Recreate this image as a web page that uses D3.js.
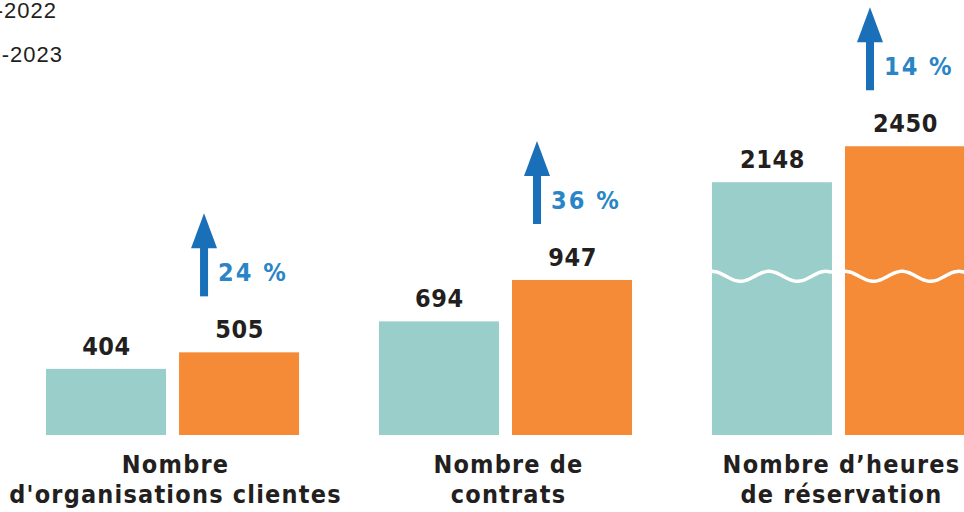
<!DOCTYPE html>
<html>
<head>
<meta charset="utf-8">
<script src="https://cdn.jsdelivr.net/npm/d3@7"></script>
<style>
  body { margin: 0; background: #fff; }
  svg { display: block; }
  .lbl { font-family: "DejaVu Sans Condensed", "DejaVu Sans", sans-serif; font-weight: bold; font-size: 25px; fill: #231f20; letter-spacing: 0.6px; }
  .cat { letter-spacing: 1.2px; }
  .pct { font-family: "DejaVu Sans Condensed", "DejaVu Sans", sans-serif; font-weight: bold; font-size: 25px; fill: #2a85c6; letter-spacing: 2px; }
  .leg { font-family: "Liberation Sans", Arial, sans-serif; font-size: 22px; fill: #231f20; letter-spacing: 1px; }
</style>
</head>
<body>
<div class="chart"></div>
<script>
const categories = [
  ["Nombre", "d'organisations clientes"],
  ["Nombre de", "contrats"],
  ["Nombre d\u2019heures", "de réservation"]
]
const series = ["2021-2022", "2022-2023"]
const values2122 = [404, 694, 2148]
const values2223 = [505, 947, 2450]
const changes = ["24 %", "36 %", "14 %"]
const colors = ["#99cecb", "#f58b37"]

const width = 964, height = 512
const margin = {top: 0, right: -1, bottom: 77, left: 46}
const baseY = height - margin.bottom

const svg = d3.select(".chart").append("svg").attr("width", width).attr("height", height)

const x0 = d3.scaleBand().domain(d3.range(categories.length))
  .range([margin.left, width - margin.right]).paddingInner(0.24).paddingOuter(0)
const x1 = d3.scaleBand().domain(series).range([0, x0.bandwidth()]).paddingInner(0.098)

// axe coupé : partie basse et partie haute
const breakLow = 1000, breakHigh = 1400
const yLow = d3.scaleLinear().domain([0, breakLow]).range([baseY, baseY - 163.7])
const breakY = yLow(breakLow)
const yHigh = d3.scaleLinear().domain([breakHigh, 2500]).range([breakY, breakY - 131])
const y = v => v <= breakLow ? yLow(v) : yHigh(v)

const rows = categories.map((c, i) => ({i, cat: c, vals: [values2122[i], values2223[i]], change: changes[i]}))

const g = svg.selectAll(".grp").data(rows).enter().append("g")
  .attr("transform", d => `translate(${x0(d.i)},0)`)

g.selectAll("rect").data(d => d.vals.map((v, k) => ({v, k}))).enter().append("rect")
  .attr("x", d => x1(series[d.k]))
  .attr("y", d => y(d.v))
  .attr("width", x1.bandwidth())
  .attr("height", d => baseY - y(d.v))
  .attr("fill", d => colors[d.k])

g.selectAll(".val").data(d => d.vals.map((v, k) => ({v, k}))).enter().append("text")
  .attr("class", "lbl")
  .attr("x", d => x1(series[d.k]) + x1.bandwidth() / 2 + 0.5)
  .attr("y", d => y(d.v) - 14)
  .attr("text-anchor", "middle")
  .text(d => d.v)

// vague de coupure
const wave = d3.line().curve(d3.curveBasis)
g.filter(d => d3.max(d.vals) > breakLow).each(function(d) {
  const grp = d3.select(this)
  d.vals.forEach((v, k) => {
    if (v <= breakLow) return
    const xs = x1(series[k]), w = x1.bandwidth()
    const pts = d3.range(0, w + 1, 2).map(t => [xs + t, breakY + 5 - 5 * Math.cos((t / 57) * 2 * Math.PI)])
    grp.append("path").attr("d", wave(pts)).attr("fill", "none")
      .attr("stroke", "#fff").attr("stroke-width", 3.5)
  })
})

// flèches de variation
const arrow = g.append("g").attr("transform", d => {
  const top = y(d.vals[1])
  return `translate(${x1(series[1]) + 25},${top - 56})`
})
arrow.append("rect").attr("x", -4).attr("y", -50).attr("width", 8).attr("height", 50).attr("fill", "#1a70b8")
arrow.append("path").attr("d", "M-13,-48 L0,-83 L13,-48 Z").attr("fill", "#1a70b8")
arrow.append("text").attr("class", "pct").attr("x", 14).attr("y", -15).text(d => d.change)

// libellés de catégories
const cat = g.append("text").attr("class", "lbl cat").attr("text-anchor", "middle")
cat.selectAll("tspan").data(d => d.cat).enter().append("tspan")
  .attr("x", x0.bandwidth() / 2 + 3)
  .attr("y", (d, i) => 473 + i * 30)
  .text(d => d)

// légende (coupée à gauche)
const leg = svg.selectAll(".leg").data(series).enter().append("g")
leg.append("rect").attr("x", -150).attr("y", (d, i) => i * 44).attr("width", 18).attr("height", 18)
  .attr("fill", (d, i) => colors[i])
leg.append("text").attr("class", "leg").attr("text-anchor", "end")
  .attr("x", (d, i) => i === 0 ? 57 : 63)
  .attr("y", (d, i) => 18 + i * 44)
  .text(d => d)
</script>
</body>
</html>
